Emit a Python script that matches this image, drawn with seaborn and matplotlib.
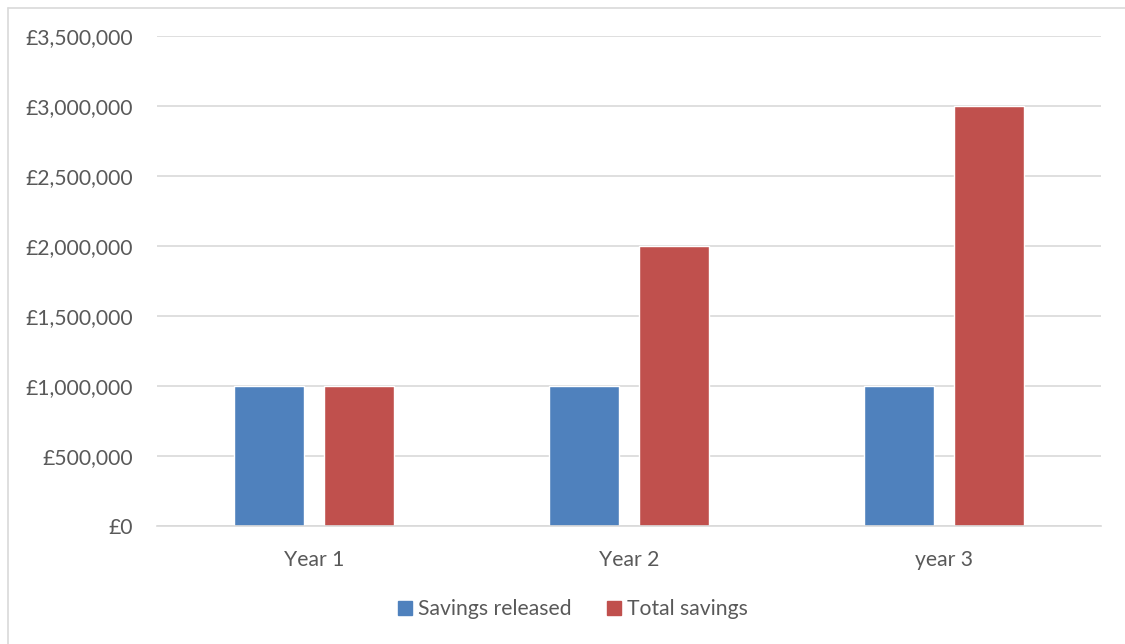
import numpy as np
import matplotlib.pyplot as plt
import matplotlib.ticker as mticker
import pandas as pd
import seaborn as sns
from matplotlib.lines import Line2D

years = ['Year 1', 'Year 2', 'year 3']
series = ['Savings released', 'Total savings']
savings_released = [1000000, 1000000, 1000000]
total_savings = [1000000, 2000000, 3000000]

df = pd.DataFrame({
    'year': years * 2,
    'series': [series[0]] * 3 + [series[1]] * 3,
    'value': savings_released + total_savings,
})

sns.set_theme(style='white')
plt.rcParams['font.family'] = ['Lato', 'DejaVu Sans']

fig = plt.figure(figsize=(11.25, 6.44), dpi=100)
ax = fig.add_axes([157 / 1125, 1 - 526 / 644, (1101 - 157) / 1125, (526 - 36) / 644])

sns.barplot(data=df, x='year', y='value', hue='series', ax=ax,
            palette=['#4F81BD', '#C0504D'], width=0.572, gap=0.222,
            saturation=1, legend=False)

ax.set_ylim(0, 3500000)
ax.set_xlim(-0.5, 2.5)
ax.yaxis.set_major_locator(mticker.MultipleLocator(500000))
ax.yaxis.set_major_formatter(mticker.FuncFormatter(lambda v, p: f'£{v:,.0f}'))
ax.grid(axis='y', color='#d9d9d9', linewidth=1.2)
ax.set_axisbelow(True)
for s in ['top', 'right', 'left']:
    ax.spines[s].set_visible(False)
ax.spines['bottom'].set_color('#d9d9d9')
ax.spines['bottom'].set_linewidth(1.2)
ax.tick_params(axis='both', length=0, labelsize=15.2, colors='#595959')
ax.tick_params(axis='y', pad=17)
ax.tick_params(axis='x', pad=17)
ax.set_xlabel('')
ax.set_ylabel('')

handles = [plt.Rectangle((0, 0), 1, 1, color=c) for c in ['#4F81BD', '#C0504D']]
fig.legend(handles, series, loc='center', bbox_to_anchor=(573 / 1125, 1 - 609 / 644),
           ncol=2, frameon=False, fontsize=15.2, labelcolor='#595959',
           handlelength=0.65, handleheight=0.65, handletextpad=0.3, columnspacing=1.7)

# chart area border (top and left edges)
fig.add_artist(Line2D([7.5 / 1125, 1], [1 - 7.5 / 644] * 2, color='#d9d9d9', lw=1.2))
fig.add_artist(Line2D([7.5 / 1125] * 2, [0, 1 - 7.5 / 644], color='#d9d9d9', lw=1.2))

fig.savefig('out.png', dpi=100, facecolor='white')
